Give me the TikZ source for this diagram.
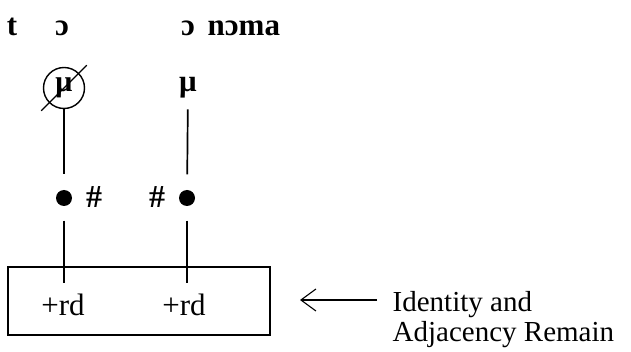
\documentclass[tikz,border=0pt]{standalone}
\usepackage{fontspec}
\setmainfont{Liberation Serif}
\usetikzlibrary{arrows.meta}
\begin{document}
\begin{tikzpicture}[x=1pt,y=-1pt,line width=1.4pt,
  seg/.style={draw,line width=1.7pt},
  phon/.style={font=\fontsize{31}{34}\selectfont\bfseries,inner sep=0pt,anchor=base},
  plain/.style={font=\fontsize{31}{34}\selectfont,inner sep=0pt,anchor=base},
  hash/.style={font=\fontsize{32}{34}\selectfont\bfseries,inner sep=0pt},
  dot/.style={circle,fill=black,draw=none,minimum size=16pt,inner sep=0pt},
  note/.style={font=\fontsize{29}{32}\selectfont,inner sep=0pt,anchor=base west}]
\useasboundingbox (0,0) rectangle (631,352);

% segmental tier
\node[phon] (t)  at (12,36)  {t};
\node[phon] (o1) at (62,36)  {ɔ};
\node[phon] (o2) at (188,36) {ɔ};
\node[phon,anchor=base west] (noma) at (207,36) {nɔma};

% moras: the first one delinked
\node[circle,draw,minimum size=41pt,inner sep=0pt,font=\fontsize{30}{32}\selectfont\bfseries] (m1) at (64,88) {μ};
\draw[line width=1.2pt,shorten <=-11pt,shorten >=-11pt] (m1.225) -- (m1.45);
\node[phon] (m2) at (188,92) {μ};

% root nodes and boundaries
\node[dot] (d1) at (64,198) {};
\node[dot] (d2) at (187,198) {};
\node[hash] (h1) at (94,197) {\#};
\node[hash] (h2) at (157,197) {\#};

% feature box
\node[draw,minimum width=262pt,minimum height=68pt,inner sep=0pt] (box) at (139,301) {};
\node[plain] (rd1) at (63,315) {+rd};
\node[plain] (rd2) at (184,315) {+rd};
\coordinate (b1) at (64,283);
\coordinate (b2) at (187,283);

% association lines
\draw[seg,shorten >=15pt] (m1) -- (d1);
\draw[seg,shorten <=10pt,shorten >=15pt] (m2) -- (d2);
\draw[seg,shorten <=14pt] (d1) -- (b1);
\draw[seg,shorten <=14pt] (d2) -- (b2);

% annotation
\coordinate (a1) at (377,300);
\coordinate (a2) at (300,300);
\draw[line width=1.1pt,-{Straight Barb[length=15pt,width=22pt,line width=1.1pt]}] (a1) -- (a2);
\node[note] (n1) at (392,311) {Identity and};
\node[note] (n2) at (392,341) {Adjacency Remain};
\end{tikzpicture}
\end{document}
